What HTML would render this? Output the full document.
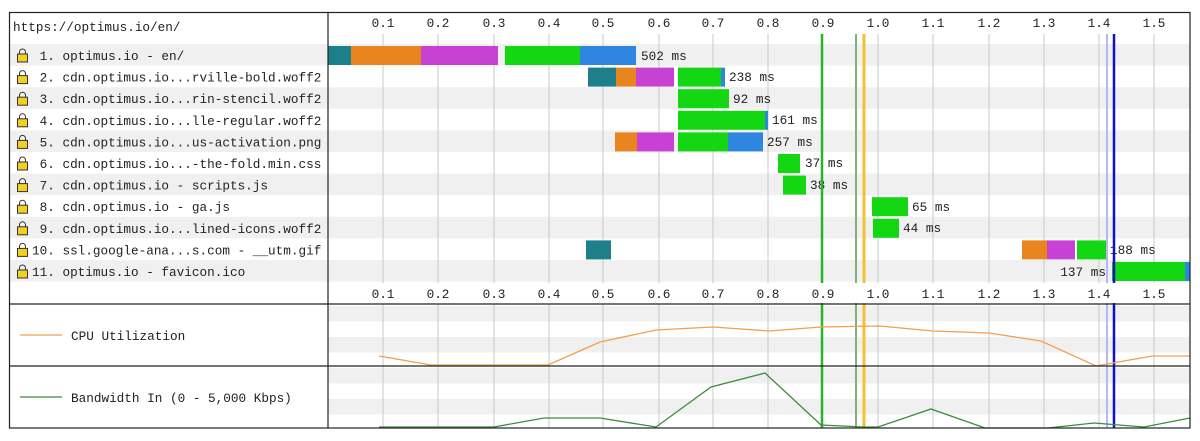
<!DOCTYPE html>
<html><head><meta charset="utf-8"><style>
html,body{margin:0;padding:0;background:#fff;width:1200px;height:441px;overflow:hidden}
svg text{font-family:"Liberation Mono",monospace;font-size:12.7px;fill:#222}
</style></head><body>
<svg width="1200" height="441" viewBox="0 0 1200 441" xmlns="http://www.w3.org/2000/svg">
<g fill="#f0f0f0">
<rect x="10" y="44" width="1180" height="21.6"/>
<rect x="10" y="87.2" width="1180" height="21.6"/>
<rect x="10" y="130.4" width="1180" height="21.6"/>
<rect x="10" y="173.6" width="1180" height="21.6"/>
<rect x="10" y="216.8" width="1180" height="21.6"/>
<rect x="10" y="260" width="1180" height="21.6"/>
<rect x="328" y="306" width="862" height="15.5"/>
<rect x="328" y="337" width="862" height="15.5"/>
<rect x="328" y="368" width="862" height="15.5"/>
<rect x="328" y="399" width="862" height="15.5"/>
</g>
<g stroke="#c8c8c8" stroke-width="1">
<line x1="383" y1="34" x2="383" y2="283"/><line x1="438" y1="34" x2="438" y2="283"/><line x1="494" y1="34" x2="494" y2="283"/><line x1="549" y1="34" x2="549" y2="283"/><line x1="603" y1="34" x2="603" y2="283"/><line x1="659" y1="34" x2="659" y2="283"/><line x1="713" y1="34" x2="713" y2="283"/><line x1="768" y1="34" x2="768" y2="283"/><line x1="878" y1="34" x2="878" y2="283"/><line x1="933" y1="34" x2="933" y2="283"/><line x1="989" y1="34" x2="989" y2="283"/><line x1="1044" y1="34" x2="1044" y2="283"/><line x1="1099" y1="34" x2="1099" y2="283"/><line x1="1154" y1="34" x2="1154" y2="283"/>
<line x1="383" y1="304" x2="383" y2="428"/><line x1="438" y1="304" x2="438" y2="428"/><line x1="494" y1="304" x2="494" y2="428"/><line x1="549" y1="304" x2="549" y2="428"/><line x1="603" y1="304" x2="603" y2="428"/><line x1="659" y1="304" x2="659" y2="428"/><line x1="713" y1="304" x2="713" y2="428"/><line x1="768" y1="304" x2="768" y2="428"/><line x1="878" y1="304" x2="878" y2="428"/><line x1="933" y1="304" x2="933" y2="428"/><line x1="989" y1="304" x2="989" y2="428"/><line x1="1044" y1="304" x2="1044" y2="428"/><line x1="1099" y1="304" x2="1099" y2="428"/><line x1="1154" y1="304" x2="1154" y2="428"/>
</g>
<g>
<rect x="328" y="46" width="23" height="19" fill="#1d7f89"/><rect x="351" y="46" width="70" height="19" fill="#e8851e"/><rect x="421" y="46" width="77" height="19" fill="#c742d4"/><rect x="505" y="46" width="75" height="19" fill="#12d712"/><rect x="580" y="46" width="56" height="19" fill="#2e86e0"/>
<rect x="588" y="67.6" width="28" height="19" fill="#1d7f89"/><rect x="616" y="67.6" width="20" height="19" fill="#e8851e"/><rect x="636" y="67.6" width="38" height="19" fill="#c742d4"/><rect x="678" y="67.6" width="43" height="19" fill="#12d712"/><rect x="721" y="67.6" width="4" height="19" fill="#2e86e0"/>
<rect x="678" y="89.2" width="51" height="19" fill="#12d712"/>
<rect x="678" y="110.8" width="87" height="19" fill="#12d712"/><rect x="765" y="110.8" width="3" height="19" fill="#2e86e0"/>
<rect x="615" y="132.4" width="22" height="19" fill="#e8851e"/><rect x="637" y="132.4" width="37" height="19" fill="#c742d4"/><rect x="678" y="132.4" width="50" height="19" fill="#12d712"/><rect x="728" y="132.4" width="35" height="19" fill="#2e86e0"/>
<rect x="778" y="154" width="22" height="19" fill="#12d712"/>
<rect x="783" y="175.6" width="23" height="19" fill="#12d712"/>
<rect x="872" y="197.2" width="36" height="19" fill="#12d712"/>
<rect x="873" y="218.8" width="26" height="19" fill="#12d712"/>
<rect x="586" y="240.4" width="25" height="19" fill="#1d7f89"/><rect x="1022" y="240.4" width="25" height="19" fill="#e8851e"/><rect x="1047" y="240.4" width="28" height="19" fill="#c742d4"/><rect x="1077" y="240.4" width="29" height="19" fill="#12d712"/>
<rect x="1112" y="262" width="73" height="19" fill="#12d712"/><rect x="1185" y="262" width="5" height="19" fill="#2e86e0"/>
</g>
<g>
<text x="641" y="60">502 ms</text>
<text x="729" y="81">238 ms</text>
<text x="733" y="103">92 ms</text>
<text x="772" y="124">161 ms</text>
<text x="767" y="146">257 ms</text>
<text x="805" y="167">37 ms</text>
<text x="810" y="189">38 ms</text>
<text x="912" y="211">65 ms</text>
<text x="903" y="232">44 ms</text>
<text x="1110" y="254">188 ms</text>
<text x="1106" y="276" text-anchor="end">137 ms</text>
</g>
<g>
<line x1="822" y1="34" x2="822" y2="428" stroke="#28b428" stroke-width="2.5"/>
<line x1="856" y1="34" x2="856" y2="428" stroke="#80b080" stroke-width="2"/>
<line x1="864" y1="34" x2="864" y2="428" stroke="#f2c230" stroke-width="3"/>
<line x1="1107" y1="34" x2="1107" y2="428" stroke="#b8b8f0" stroke-width="2"/>
<line x1="1114" y1="34" x2="1114" y2="428" stroke="#1010c8" stroke-width="2.5"/>
</g>
<rect x="329" y="283" width="860" height="20" fill="#fff"/>
<rect x="329" y="13" width="860" height="21" fill="#fff"/>
<g text-anchor="middle">
<text x="383" y="27">0.1</text><text x="438" y="27">0.2</text><text x="494" y="27">0.3</text><text x="549" y="27">0.4</text><text x="603" y="27">0.5</text><text x="659" y="27">0.6</text><text x="713" y="27">0.7</text><text x="768" y="27">0.8</text><text x="823" y="27">0.9</text><text x="878" y="27">1.0</text><text x="933" y="27">1.1</text><text x="989" y="27">1.2</text><text x="1044" y="27">1.3</text><text x="1099" y="27">1.4</text><text x="1154" y="27">1.5</text>
<text x="383" y="298">0.1</text><text x="438" y="298">0.2</text><text x="494" y="298">0.3</text><text x="549" y="298">0.4</text><text x="603" y="298">0.5</text><text x="659" y="298">0.6</text><text x="713" y="298">0.7</text><text x="768" y="298">0.8</text><text x="823" y="298">0.9</text><text x="878" y="298">1.0</text><text x="933" y="298">1.1</text><text x="989" y="298">1.2</text><text x="1044" y="298">1.3</text><text x="1099" y="298">1.4</text><text x="1154" y="298">1.5</text>
</g>
<polyline fill="none" stroke="#f0a050" stroke-width="1.3" points="379,356 431,365 548,365 600,342 656,330 713,327 769,331 821,327 880,326 933,331 989,333 1041,341 1096,366 1152,356 1190,356"/>
<polyline fill="none" stroke="#3c8c3c" stroke-width="1.3" points="379,427 494,427 544,418 600,418 656,427 711,387 765,373 821,425 864,427 878,427 931,409 985,428 1048,428 1094,423 1144,427 1190,418"/>
<text x="13" y="31">https://optimus.io/en/</text>
<g fill="#f2d020" stroke="#333" stroke-width="1">
<g transform="translate(17,48)"><path d="M2.5,6 V4 a3,3 0 0 1 6,0 V6" fill="none"/><rect x="0.5" y="6" width="10" height="8"/></g>
<g transform="translate(17,69.6)"><path d="M2.5,6 V4 a3,3 0 0 1 6,0 V6" fill="none"/><rect x="0.5" y="6" width="10" height="8"/></g>
<g transform="translate(17,91.2)"><path d="M2.5,6 V4 a3,3 0 0 1 6,0 V6" fill="none"/><rect x="0.5" y="6" width="10" height="8"/></g>
<g transform="translate(17,112.8)"><path d="M2.5,6 V4 a3,3 0 0 1 6,0 V6" fill="none"/><rect x="0.5" y="6" width="10" height="8"/></g>
<g transform="translate(17,134.4)"><path d="M2.5,6 V4 a3,3 0 0 1 6,0 V6" fill="none"/><rect x="0.5" y="6" width="10" height="8"/></g>
<g transform="translate(17,156)"><path d="M2.5,6 V4 a3,3 0 0 1 6,0 V6" fill="none"/><rect x="0.5" y="6" width="10" height="8"/></g>
<g transform="translate(17,177.6)"><path d="M2.5,6 V4 a3,3 0 0 1 6,0 V6" fill="none"/><rect x="0.5" y="6" width="10" height="8"/></g>
<g transform="translate(17,199.2)"><path d="M2.5,6 V4 a3,3 0 0 1 6,0 V6" fill="none"/><rect x="0.5" y="6" width="10" height="8"/></g>
<g transform="translate(17,220.8)"><path d="M2.5,6 V4 a3,3 0 0 1 6,0 V6" fill="none"/><rect x="0.5" y="6" width="10" height="8"/></g>
<g transform="translate(17,242.4)"><path d="M2.5,6 V4 a3,3 0 0 1 6,0 V6" fill="none"/><rect x="0.5" y="6" width="10" height="8"/></g>
<g transform="translate(17,264)"><path d="M2.5,6 V4 a3,3 0 0 1 6,0 V6" fill="none"/><rect x="0.5" y="6" width="10" height="8"/></g>
</g>
<g>
<text x="32" y="60">&#160;1. optimus.io - en/</text>
<text x="32" y="81.6">&#160;2. cdn.optimus.io...rville-bold.woff2</text>
<text x="32" y="103.2">&#160;3. cdn.optimus.io...rin-stencil.woff2</text>
<text x="32" y="124.8">&#160;4. cdn.optimus.io...lle-regular.woff2</text>
<text x="32" y="146.4">&#160;5. cdn.optimus.io...us-activation.png</text>
<text x="32" y="168">&#160;6. cdn.optimus.io...-the-fold.min.css</text>
<text x="32" y="189.6">&#160;7. cdn.optimus.io - scripts.js</text>
<text x="32" y="211.2">&#160;8. cdn.optimus.io - ga.js</text>
<text x="32" y="232.8">&#160;9. cdn.optimus.io...lined-icons.woff2</text>
<text x="32" y="254.4">10. ssl.google-ana...s.com - __utm.gif</text>
<text x="32" y="276">11. optimus.io - favicon.ico</text>
</g>
<line x1="20" y1="335" x2="62" y2="335" stroke="#f0a050" stroke-width="1.3"/>
<text x="71" y="340">CPU Utilization</text>
<line x1="20" y1="397" x2="62" y2="397" stroke="#3c8c3c" stroke-width="1.3"/>
<text x="71" y="402">Bandwidth In (0 - 5,000 Kbps)</text>
<g fill="none" stroke="#222" stroke-width="1.2">
<rect x="9.5" y="12.5" width="1180.5" height="415.5"/>
<line x1="328" y1="12" x2="328" y2="428"/>
<line x1="9" y1="304" x2="1190" y2="304"/>
<line x1="9" y1="366" x2="1190" y2="366"/>
</g>
</svg>
</body></html>
